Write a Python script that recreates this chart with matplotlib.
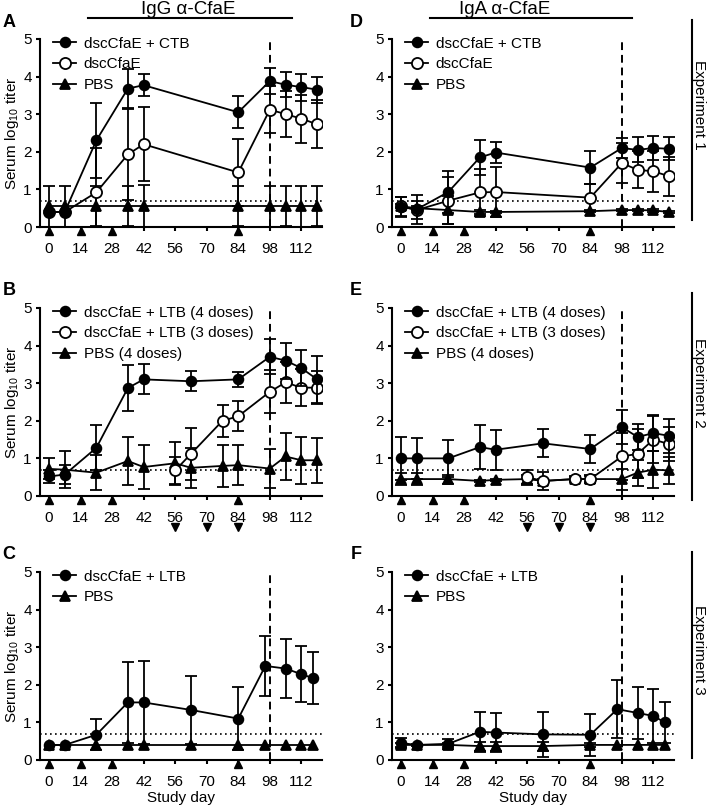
"""Serum IgG / IgA anti-CfaE titers over the study, three experiments."""

import matplotlib
matplotlib.use("Agg")
import matplotlib.pyplot as plt
from matplotlib.lines import Line2D

plt.rcParams["font.family"] = ["Liberation Sans", "DejaVu Sans"]
plt.rcParams["mathtext.default"] = "regular"

# ---- data (log10 titer) ----
x_ticks = [0, 14, 28, 42, 56, 70, 84, 98, 112]
dose_days = [0, 14, 28, 84]
boost_days = [56, 70, 84]

# Experiment 1
exp1_days = [0, 7, 21, 35, 42, 84, 98, 105, 112, 119]
a_ctb = [0.40, 0.40, 2.30, 3.68, 3.77, 3.05, 3.88, 3.78, 3.72, 3.65]
a_ctb_err = [0, 0, 1.00, 0.52, 0.29, 0.43, 0.34, 0.33, 0.36, 0.35]
a_dsc = [0.40, 0.40, 0.92, 1.93, 2.20, 1.45, 3.12, 3.00, 2.88, 2.73]
a_dsc_err = [0, 0, 1.18, 1.22, 0.98, 0.88, 0.62, 0.62, 0.64, 0.64]
a_pbs = [0.55, 0.55, 0.55, 0.55, 0.55, 0.55, 0.55, 0.55, 0.55, 0.55]
a_pbs_err = [0.55, 0.55, 0.53, 0.53, 0.56, 0.53, 0.55, 0.53, 0.55, 0.53]

d_ctb = [0.53, 0.47, 0.93, 1.85, 1.98, 1.58, 2.10, 2.05, 2.10, 2.08]
d_ctb_err = [0.27, 0.38, 0.57, 0.47, 0.29, 0.44, 0.27, 0.33, 0.32, 0.30]
d_dsc = [0.55, 0.45, 0.70, 0.92, 0.93, 0.78, 1.70, 1.52, 1.48, 1.35]
d_dsc_err = [0.25, 0.25, 0.62, 0.63, 0.67, 0.35, 0.52, 0.49, 0.55, 0.52]
d_pbs = [0.55, 0.50, 0.45, 0.40, 0.40, 0.42, 0.45, 0.45, 0.44, 0.40]
d_pbs_err = [0.05, 0.05, 0.38, 0.05, 0.03, 0.03, 0.03, 0.03, 0.03, 0.03]

# Experiment 2
exp2_days = [0, 7, 21, 35, 42, 63, 84, 98, 105, 112, 119]
exp2_late_days = [56, 63, 77, 84, 98, 105, 112, 119]
exp2_pbs_days = [0, 7, 21, 35, 42, 56, 63, 77, 84, 98, 105, 112, 119]

b_ltb4 = [0.52, 0.57, 1.28, 2.87, 3.10, 3.05, 3.10, 3.70, 3.60, 3.40, 3.10]
b_ltb4_err = [0.17, 0.25, 0.60, 0.62, 0.40, 0.27, 0.20, 0.47, 0.48, 0.48, 0.62]
b_ltb3 = [0.68, 1.12, 2.00, 2.12, 2.77, 3.02, 2.88, 2.88]
b_ltb3_err = [0.35, 0.70, 0.42, 0.40, 0.57, 0.54, 0.50, 0.43]
b_pbs = [0.72, 0.70, 0.62, 0.93, 0.77, 0.87, 0.75, 0.80, 0.82, 0.73, 1.05, 0.95, 0.95]
b_pbs_err = [0.28, 0.50, 0.47, 0.63, 0.58, 0.57, 0.53, 0.55, 0.53, 0.52, 0.62, 0.62, 0.60]

e_ltb4 = [1.00, 1.00, 1.00, 1.30, 1.23, 1.40, 1.25, 1.83, 1.57, 1.67, 1.60]
e_ltb4_err = [0.57, 0.55, 0.50, 0.58, 0.53, 0.37, 0.37, 0.45, 0.35, 0.47, 0.45]
e_ltb3 = [0.50, 0.40, 0.45, 0.45, 1.05, 1.12, 1.50, 1.38]
e_ltb3_err = [0.20, 0.25, 0.08, 0.10, 0.62, 0.65, 0.62, 0.45]
e_pbs = [0.45, 0.45, 0.45, 0.40, 0.43, 0.45, 0.40, 0.45, 0.45, 0.45, 0.62, 0.70, 0.68]
e_pbs_err = [0.15, 0.15, 0.12, 0.03, 0.03, 0.12, 0.05, 0.05, 0.08, 0.28, 0.35, 0.50, 0.35]

# Experiment 3
exp3_days = [0, 7, 21, 35, 42, 63, 84, 96, 105, 112, 117]
c_ltb = [0.40, 0.40, 0.67, 1.53, 1.53, 1.33, 1.10, 2.50, 2.43, 2.28, 2.18]
c_ltb_err = [0, 0, 0.41, 1.08, 1.10, 0.90, 0.83, 0.80, 0.79, 0.75, 0.70]
c_pbs = [0.40, 0.40, 0.40, 0.40, 0.40, 0.40, 0.40, 0.40, 0.40, 0.40, 0.40]
c_pbs_err = [0, 0, 0, 0, 0, 0, 0, 0, 0, 0, 0]

f_ltb = [0.45, 0.40, 0.43, 0.75, 0.73, 0.68, 0.67, 1.35, 1.25, 1.17, 1.00]
f_ltb_err = [0.13, 0.02, 0.14, 0.53, 0.52, 0.59, 0.56, 0.77, 0.70, 0.71, 0.54]
f_pbs = [0.40, 0.40, 0.40, 0.37, 0.37, 0.37, 0.40, 0.40, 0.40, 0.40, 0.40]
f_pbs_err = [0.05, 0, 0.05, 0.12, 0.12, 0.12, 0.05, 0, 0, 0, 0]

LOD = 0.7
BOOST_DAY = 98
LW = 1.3


def draw_series(ax, days, values, errs, marker, filled, label, size, z):

    """Plot one group: error bars underneath, then line + markers.
Returns the Line2D used for the legend."""

    keep = [i for i, e in enumerate(errs) if e > 0]
    ax.errorbar(
        [days[i] for i in keep],
        [values[i] for i in keep],
        yerr = [errs[i] for i in keep],
        fmt = "none",
        ecolor = "black",
        elinewidth = LW,
        capsize = 4.5,
        capthick = LW,
        zorder = z,
    )
    line, = ax.plot(
        days, values,
        color = "black",
        lw = LW,
        marker = marker,
        ms = size,
        mfc = "black" if filled else "white",
        mec = "black",
        mew = 1.3,
        label = label,
        zorder = z + 0.5,
    )
    return line


def style_axes(ax, boosts = False, left = True, bottom = False):

    """Prism-like axes: open box, outward ticks, LOD line, day-98 line, dose marks."""

    ax.set_xlim(-4, 121)
    ax.set_ylim(0, 5)
    ax.set_xticks(x_ticks)
    ax.set_yticks([0, 1, 2, 3, 4, 5])
    for side in ["top", "right"]:
        ax.spines[side].set_visible(False)
    for side in ["left", "bottom"]:
        ax.spines[side].set_linewidth(1.5)
    ax.tick_params(axis = "both", direction = "out", length = 3, width = 1.5,
                   labelsize = 11)
    ax.tick_params(axis = "x", pad = 7.5)
    ax.tick_params(axis = "y", pad = 3)

    ax.axhline(LOD, ls = (0, (1, 2)), color = "black", lw = 1.2, zorder = 1)
    ax.axvline(BOOST_DAY, ls = (0, (4, 2.5)), color = "black", lw = 1.4, zorder = 1)

    # vaccination days under the axis
    ax.plot(dose_days, [-0.022] * len(dose_days), ls = "none", marker = "^",
            ms = 5.5, color = "black", clip_on = False,
            transform = ax.get_xaxis_transform())
    if boosts:
        ax.plot(boost_days, [-0.165] * len(boost_days), ls = "none", marker = "v",
                ms = 5.5, color = "black", clip_on = False,
                transform = ax.get_xaxis_transform())

    if left:
        ax.set_ylabel("Serum log$_{10}$ titer", fontsize = 11)
        ax.yaxis.set_label_coords(-0.068, 0.5)
    if bottom:
        ax.set_xlabel("Study day", fontsize = 11)
        ax.xaxis.set_label_coords(0.5, -0.165)


def add_legend(ax, handles):

    ax.legend(
        handles = handles,
        loc = "upper left",
        bbox_to_anchor = (0.025, 1.045),
        frameon = False,
        fontsize = 11,
        handlelength = 1.5,
        handletextpad = 0.5,
        labelspacing = 0.45,
        borderaxespad = 0,
    )


fig = plt.figure(figsize = (7.14, 8.09), dpi = 100)

col_left = [0.056, 0.549]
col_width = 0.3945
row_bottom = [0.7194, 0.3869, 0.0606]
row_height = 0.2325

ax_a = fig.add_axes([col_left[0], row_bottom[0], col_width, row_height])
ax_d = fig.add_axes([col_left[1], row_bottom[0], col_width, row_height])
ax_b = fig.add_axes([col_left[0], row_bottom[1], col_width, row_height])
ax_e = fig.add_axes([col_left[1], row_bottom[1], col_width, row_height])
ax_c = fig.add_axes([col_left[0], row_bottom[2], col_width, row_height])
ax_f = fig.add_axes([col_left[1], row_bottom[2], col_width, row_height])

# Experiment 1
for ax, ctb, ctb_err, dsc, dsc_err, pbs, pbs_err in [
    (ax_a, a_ctb, a_ctb_err, a_dsc, a_dsc_err, a_pbs, a_pbs_err),
    (ax_d, d_ctb, d_ctb_err, d_dsc, d_dsc_err, d_pbs, d_pbs_err),
]:
    h_pbs = draw_series(ax, exp1_days, pbs, pbs_err, "^", True, "PBS", 6.5, 2)
    h_dsc = draw_series(ax, exp1_days, dsc, dsc_err, "o", False, "dscCfaE", 8, 3)
    h_ctb = draw_series(ax, exp1_days, ctb, ctb_err, "o", True, "dscCfaE + CTB", 7, 4)
    style_axes(ax, left = ax is ax_a)
    add_legend(ax, [h_ctb, h_dsc, h_pbs])

# Experiment 2
for ax, l4, l4_err, l3, l3_err, pbs, pbs_err in [
    (ax_b, b_ltb4, b_ltb4_err, b_ltb3, b_ltb3_err, b_pbs, b_pbs_err),
    (ax_e, e_ltb4, e_ltb4_err, e_ltb3, e_ltb3_err, e_pbs, e_pbs_err),
]:
    h_pbs = draw_series(ax, exp2_pbs_days, pbs, pbs_err, "^", True, "PBS (4 doses)", 6.5, 2)
    h_l3 = draw_series(ax, exp2_late_days, l3, l3_err, "o", False, "dscCfaE + LTB (3 doses)", 8, 3)
    h_l4 = draw_series(ax, exp2_days, l4, l4_err, "o", True, "dscCfaE + LTB (4 doses)", 7, 4)
    style_axes(ax, boosts = True, left = ax is ax_b)
    add_legend(ax, [h_l4, h_l3, h_pbs])

# Experiment 3
for ax, ltb, ltb_err, pbs, pbs_err in [
    (ax_c, c_ltb, c_ltb_err, c_pbs, c_pbs_err),
    (ax_f, f_ltb, f_ltb_err, f_pbs, f_pbs_err),
]:
    h_pbs = draw_series(ax, exp3_days, pbs, pbs_err, "^", True, "PBS", 6.5, 2)
    h_ltb = draw_series(ax, exp3_days, ltb, ltb_err, "o", True, "dscCfaE + LTB", 7, 4)
    style_axes(ax, left = ax is ax_c, bottom = True)
    add_legend(ax, [h_ltb, h_pbs])

# column headers with rule underneath
for x_mid, x0, x1, title in [(0.264, 0.1232, 0.409, "IgG α-CfaE"),
                             (0.7073, 0.6022, 0.8852, "IgA α-CfaE")]:
    fig.text(x_mid, 0.988, title, ha = "center", va = "center", fontsize = 13.5)
    fig.add_artist(Line2D([x0, x1], [0.9778, 0.9778], color = "black", lw = 1.5))

# experiment brackets on the right
for y0, y1, y_txt, name in [(0.9753, 0.7281, 0.8702, "Experiment 1"),
                            (0.6378, 0.382, 0.5266, "Experiment 2"),
                            (0.3177, 0.063, 0.1965, "Experiment 3")]:
    fig.add_artist(Line2D([0.9692, 0.9692], [y0, y1], color = "black", lw = 1.5))
    fig.text(0.9795, y_txt, name, rotation = -90, ha = "center", va = "center",
             fontsize = 11)

# panel letters
for x, y, letter in [(0.0126, 0.9728, "A"), (0.4986, 0.9728, "D"),
                     (0.0126, 0.6415, "B"), (0.4986, 0.6415, "E"),
                     (0.0126, 0.314, "C"), (0.4986, 0.314, "F")]:
    fig.text(x, y, letter, ha = "center", va = "center", fontsize = 13,
             fontweight = "bold")

fig.savefig("out.png", dpi = 100)
